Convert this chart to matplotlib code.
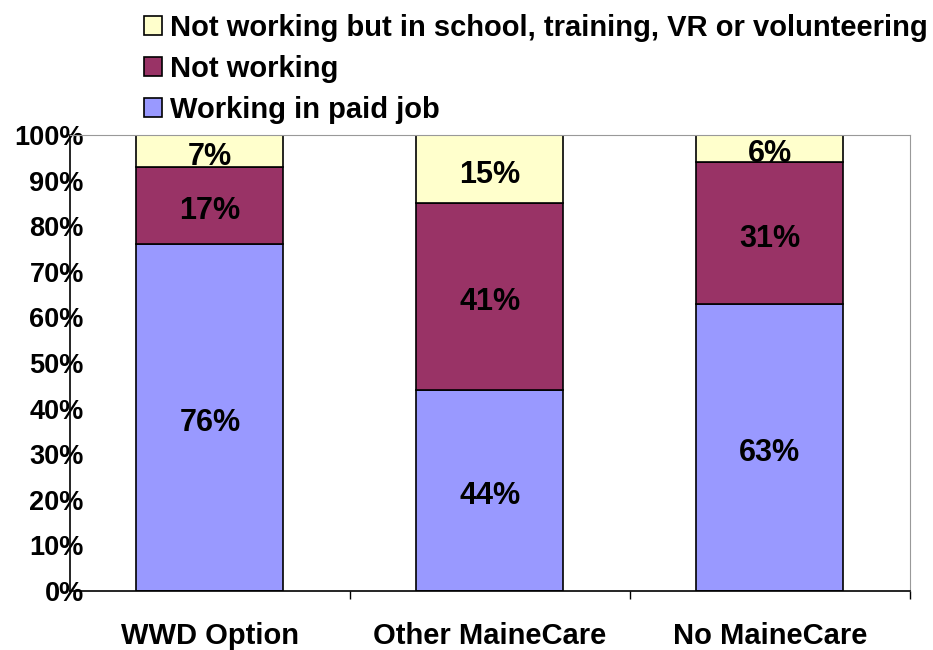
import matplotlib.pyplot as plt
import numpy as np

categories = ['WWD Option', 'Other MaineCare', 'No MaineCare']
paid_job = [76, 44, 63]
not_working = [17, 41, 31]
school_etc = [7, 15, 6]
series_names = ['Working in paid job', 'Not working',
                'Not working but in school, training, VR or volunteering']
colors = ['#9999FF', '#993366', '#FFFFCC']

plt.rcParams['font.family'] = ['Liberation Sans', 'DejaVu Sans']
plt.rcParams['font.weight'] = 'bold'

fig = plt.figure(figsize=(9.33, 6.5), dpi=100)
ax = fig.add_axes([0.075, 0.0908, 0.9, 0.7015])

x = np.arange(len(categories))
width = 0.525
bottom = np.zeros(len(categories))
handles = []
for vals, name, col in zip([paid_job, not_working, school_etc], series_names, colors):
    bars = ax.bar(x, vals, width, bottom=bottom, color=col, edgecolor='black',
                  linewidth=1.2, label=name)
    handles.append(bars)
    # data labels, slightly below segment centre like the original
    for xi, b, v in zip(x, bottom, vals):
        ax.annotate(f'{v}%', (xi, b + v / 2), textcoords='offset points',
                    xytext=(0, -4), ha='center', va='center',
                    fontsize=22, fontweight='bold')
    bottom += np.array(vals)

ax.set_xlim(-0.5, 2.5)
ax.set_ylim(0, 100)
ax.set_yticks(np.arange(0, 101, 10))
ax.set_yticklabels([f'{v}%' for v in range(0, 101, 10)], fontsize=19.5, fontweight='bold')
ax.tick_params(axis='y', length=0, pad=-10)

ax.set_xticks(x)
ax.set_xticklabels(categories, fontsize=21, fontweight='bold')
ax.tick_params(axis='x', which='major', length=0, pad=22)
ax.set_xticks([0.5, 1.5, 2.5], minor=True)
ax.tick_params(axis='x', which='minor', length=6, width=1, color='black')

for s in ['top', 'right']:
    ax.spines[s].set_color('#999999')
for s in ['left', 'bottom']:
    ax.spines[s].set_color('black')
    ax.spines[s].set_linewidth(1.2)

fig.legend(handles[::-1], series_names[::-1], loc='upper left',
           bbox_to_anchor=(0.142, 0.997), frameon=False,
           prop={'weight': 'bold', 'size': 21},
           handlelength=0.6, handleheight=0.6, handletextpad=0.3,
           labelspacing=0.45, borderaxespad=0)

fig.savefig('out.png', dpi=100)
